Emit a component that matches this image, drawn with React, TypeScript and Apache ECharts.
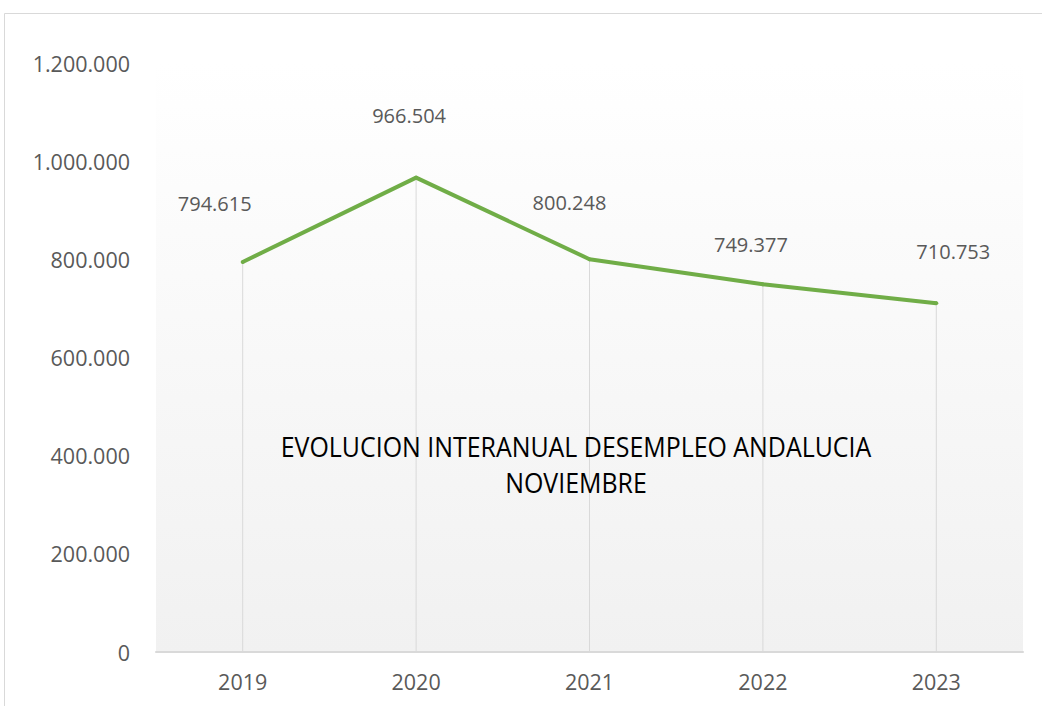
import React, { useEffect, useRef } from "react";
import * as echarts from "echarts";

const years = ["2019", "2020", "2021", "2022", "2023"];
const paro = [794615, 966504, 800248, 749377, 710753];
const yTicks = { min: 0, max: 1200000, interval: 200000 };
const titleLines = ["EVOLUCION INTERANUAL DESEMPLEO ANDALUCIA", "NOVIEMBRE"];
// label offsets (style) relative to each point
const labelOffsets = [
  [-28, -58],
  [-7, -62],
  [-20, -57],
  [-12, -40],
  [17, -52],
];

const fmt = (v: number) => String(Math.round(v)).replace(/\B(?=(\d{3})+(?!\d))/g, ".");

export default function App() {
  const ref = useRef<HTMLDivElement>(null);
  useEffect(() => {
    if (!ref.current) return;
    const chart = echarts.init(ref.current, null, { renderer: "svg" });
    const font = '"Open Sans", sans-serif';
    chart.setOption({
      animation: false,
      backgroundColor: "#ffffff",
      grid: {
        left: 156,
        right: 19,
        top: 63,
        bottom: 54,
        show: true,
        borderWidth: 0,
        backgroundColor: new echarts.graphic.LinearGradient(0, 0, 0, 1, [
          { offset: 0, color: "#ffffff" },
          { offset: 1, color: "#f1f1f1" },
        ]),
      },
      xAxis: {
        type: "category",
        data: years,
        boundaryGap: true,
        axisLine: { show: true, lineStyle: { color: "#d9d9d9", width: 2 } },
        axisTick: { show: false },
        splitLine: { show: false },
        axisLabel: { color: "#595959", fontSize: 21.5, fontFamily: font, margin: 18 },
      },
      yAxis: {
        type: "value",
        min: yTicks.min,
        max: yTicks.max,
        interval: yTicks.interval,
        axisLine: { show: false },
        axisTick: { show: false },
        splitLine: { show: false },
        axisLabel: {
          color: "#595959",
          fontSize: 21.5,
          fontFamily: font,
          margin: 26,
          formatter: (v: number) => fmt(v),
        },
      },
      graphic: [
        {
          type: "rect",
          z: -10,
          silent: true,
          shape: { x: 4.5, y: 13.5, width: 1200, height: 900 },
          style: { fill: "none", stroke: "#d9d9d9", lineWidth: 1 },
        },
        {
          type: "text",
          z: 100,
          x: 576,
          y: 428,
          scaleX: 0.89,
          style: {
            text: titleLines.join("\n"),
            fill: "#000000",
            font: '28px "Open Sans", sans-serif',
            align: "center",
            textAlign: "center",
            lineHeight: 36,
          },
        },
      ],
      series: [
        {
          type: "bar",
          data: paro,
          barWidth: 1,
          itemStyle: { color: "#d9d9d9" },
          z: 1,
          silent: true,
        },
        {
          type: "line",
          data: paro.map((v, i) => ({
            value: v,
            label: { offset: labelOffsets[i] },
          })),
          z: 3,
          symbol: "circle",
          symbolSize: 4,
          showSymbol: true,
          itemStyle: { color: "#70ad47" },
          lineStyle: { color: "#70ad47", width: 4 },
          label: {
            show: true,
            position: "inside",
            align: "center",
            verticalAlign: "middle",
            color: "#595959",
            fontSize: 20,
            fontFamily: font,
            formatter: (p: any) => fmt(p.value),
          },
        },
      ],
    });
    return () => chart.dispose();
  }, []);
  return (
    <div
      ref={ref}
      style={{ position: "absolute", left: 0, top: 0, width: 1042, height: 706 }}
    />
  );
}
